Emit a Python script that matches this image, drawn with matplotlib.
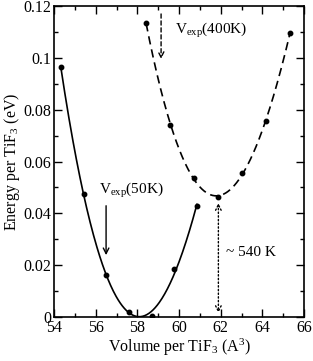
import numpy as np
import matplotlib
matplotlib.use("Agg")
import matplotlib.pyplot as plt
from matplotlib.ticker import MultipleLocator

plt.rcParams['font.family'] = ['Liberation Serif', 'DejaVu Serif']
plt.rcParams['mathtext.fontset'] = 'custom'
plt.rcParams['mathtext.rm'] = 'Liberation Serif'
plt.rcParams['mathtext.it'] = 'Liberation Serif:italic'

# Low-temperature (50K) series
vol_low = [54.32, 55.43, 56.50, 57.60, 58.69, 59.76, 60.86]
en_low = [0.0965, 0.0475, 0.0163, 0.0020, 0.0003, 0.0184, 0.0428]
# High-temperature (400K) series
vol_high = [58.42, 59.58, 60.74, 61.89, 63.04, 64.18, 65.33]
en_high = [0.1135, 0.0742, 0.0535, 0.0462, 0.0557, 0.0757, 0.1097]

vexp_50 = 56.5
vexp_400 = 59.14
v_min_high = 61.89

fig = plt.figure(figsize=(3.13, 3.61), dpi=100)
ax = fig.add_axes([54/313, 1-317/361, 250/313, 311/361])

# fitted curves
p_low = np.polyfit(vol_low, en_low, 3)
xl = np.linspace(min(vol_low), max(vol_low), 200)
ax.plot(xl, np.polyval(p_low, xl), color='black', lw=1.2)
ax.plot(vol_low, en_low, 'o', color='black', ms=3.2)

p_high = np.polyfit(vol_high, en_high, 3)
xh = np.linspace(min(vol_high), max(vol_high), 200)
ax.plot(xh, np.polyval(p_high, xh), color='black', lw=1.2, ls=(0, (5, 3)))
ax.plot(vol_high, en_high, 'o', color='black', ms=3.2)

# arrows
ax.annotate('', xy=(vexp_50, 0.0228), xytext=(vexp_50, 0.0440),
            arrowprops=dict(arrowstyle='->', color='black', lw=1.0))
ax.text(56.15, 0.049, r'V$_{\rm exp}$(50K)', fontsize=11, va='center', ha='left')

ax.annotate('', xy=(vexp_400, 0.0985), xytext=(vexp_400, 0.118),
            arrowprops=dict(arrowstyle='->', color='black', lw=1.0, ls=(0, (3, 2))))
ax.text(59.8, 0.1105, r'V$_{\rm exp}$(400K)', fontsize=11, va='center', ha='left')

ax.annotate('', xy=(v_min_high, 0.0005), xytext=(v_min_high, 0.045),
            arrowprops=dict(arrowstyle='<->', color='black', lw=1.0, ls=':'))
ax.text(62.25, 0.025, '~ 540 K', fontsize=11, va='center', ha='left')

ax.set_xlim(54, 66)
ax.set_ylim(0, 0.12)
ax.xaxis.set_major_locator(MultipleLocator(2))
ax.xaxis.set_minor_locator(MultipleLocator(1))
ax.set_yticks([0, 0.02, 0.04, 0.06, 0.08, 0.1, 0.12])
ax.set_yticklabels(['0', '0.02', '0.04', '0.06', '0.08', '0.1', '0.12'])
ax.yaxis.set_minor_locator(MultipleLocator(0.01))
ax.tick_params(which='both', direction='in', top=True, right=True, labelsize=11.5, pad=2)
ax.tick_params(which='major', length=6, width=1)
ax.tick_params(which='minor', length=3, width=1)
for s in ax.spines.values():
    s.set_linewidth(1.2)

ax.set_xlabel(r'Volume per TiF$_3$ (A$^3$)', fontsize=11.5, labelpad=1)
ax.set_ylabel(r'Energy per TiF$_3$ (eV)', fontsize=11.5, labelpad=1)

fig.savefig('out.png', dpi=100)
